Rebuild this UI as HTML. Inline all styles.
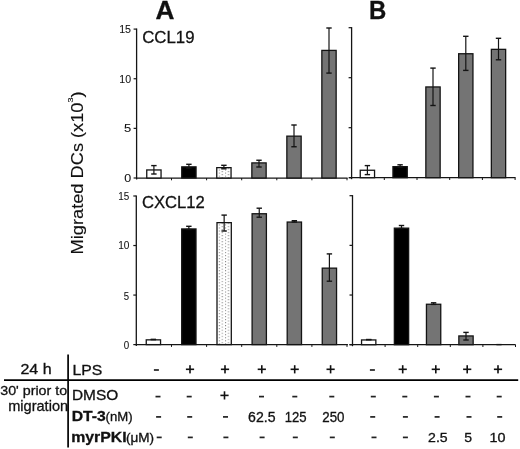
<!DOCTYPE html>
<html><head><meta charset="utf-8"><style>
html,body{margin:0;padding:0;background:#fff;}
body{width:520px;height:449px;overflow:hidden;}
svg{display:block;font-family:"Liberation Sans",sans-serif;will-change:transform;}
text{fill:#111;stroke:#111;stroke-width:0.3px;}
.tk{stroke-width:0.08px;}
</style></head><body>
<svg width="520" height="449" viewBox="0 0 520 449">
<defs><pattern id="dots" x="218.8" y="251.9" width="6.14" height="3.05" patternUnits="userSpaceOnUse">
<rect width="6.14" height="3.05" fill="#fff"/><rect x="0" y="0" width="1" height="1" fill="#777"/><rect x="3.07" y="1.52" width="1" height="1" fill="#777"/></pattern></defs>
<line x1="136.60" y1="28.50" x2="136.60" y2="179.50" stroke="#151515" stroke-width="1.3"/>
<line x1="133.60" y1="178.00" x2="136.60" y2="178.00" stroke="#151515" stroke-width="1.2"/>
<line x1="133.60" y1="128.37" x2="136.60" y2="128.37" stroke="#151515" stroke-width="1.2"/>
<line x1="133.60" y1="78.73" x2="136.60" y2="78.73" stroke="#151515" stroke-width="1.2"/>
<line x1="133.60" y1="29.10" x2="136.60" y2="29.10" stroke="#151515" stroke-width="1.2"/>
<line x1="136.60" y1="178.00" x2="347.60" y2="178.00" stroke="#151515" stroke-width="1.25"/>
<line x1="171.50" y1="178.00" x2="171.50" y2="180.30" stroke="#151515" stroke-width="1"/>
<line x1="206.60" y1="178.00" x2="206.60" y2="180.30" stroke="#151515" stroke-width="1"/>
<line x1="241.70" y1="178.00" x2="241.70" y2="180.30" stroke="#151515" stroke-width="1"/>
<line x1="276.80" y1="178.00" x2="276.80" y2="180.30" stroke="#151515" stroke-width="1"/>
<line x1="311.90" y1="178.00" x2="311.90" y2="180.30" stroke="#151515" stroke-width="1"/>
<line x1="347.00" y1="178.00" x2="347.00" y2="180.30" stroke="#151515" stroke-width="1"/>
<line x1="136.30" y1="195.40" x2="136.30" y2="346.10" stroke="#151515" stroke-width="1.3"/>
<line x1="133.30" y1="344.60" x2="136.30" y2="344.60" stroke="#151515" stroke-width="1.2"/>
<line x1="133.30" y1="295.07" x2="136.30" y2="295.07" stroke="#151515" stroke-width="1.2"/>
<line x1="133.30" y1="245.53" x2="136.30" y2="245.53" stroke="#151515" stroke-width="1.2"/>
<line x1="133.30" y1="196.00" x2="136.30" y2="196.00" stroke="#151515" stroke-width="1.2"/>
<line x1="136.30" y1="344.60" x2="347.90" y2="344.60" stroke="#151515" stroke-width="1.25"/>
<line x1="171.50" y1="344.60" x2="171.50" y2="346.90" stroke="#151515" stroke-width="1"/>
<line x1="206.60" y1="344.60" x2="206.60" y2="346.90" stroke="#151515" stroke-width="1"/>
<line x1="241.70" y1="344.60" x2="241.70" y2="346.90" stroke="#151515" stroke-width="1"/>
<line x1="276.80" y1="344.60" x2="276.80" y2="346.90" stroke="#151515" stroke-width="1"/>
<line x1="311.90" y1="344.60" x2="311.90" y2="346.90" stroke="#151515" stroke-width="1"/>
<line x1="347.00" y1="344.60" x2="347.00" y2="346.90" stroke="#151515" stroke-width="1"/>
<line x1="351.60" y1="27.10" x2="351.60" y2="179.20" stroke="#151515" stroke-width="1.3"/>
<line x1="348.60" y1="177.70" x2="351.60" y2="177.70" stroke="#151515" stroke-width="1.2"/>
<line x1="348.60" y1="127.70" x2="351.60" y2="127.70" stroke="#151515" stroke-width="1.2"/>
<line x1="348.60" y1="77.70" x2="351.60" y2="77.70" stroke="#151515" stroke-width="1.2"/>
<line x1="348.60" y1="27.70" x2="351.60" y2="27.70" stroke="#151515" stroke-width="1.2"/>
<line x1="349.20" y1="177.70" x2="515.60" y2="177.70" stroke="#151515" stroke-width="1.25"/>
<line x1="384.30" y1="177.70" x2="384.30" y2="180.00" stroke="#151515" stroke-width="1"/>
<line x1="417.00" y1="177.70" x2="417.00" y2="180.00" stroke="#151515" stroke-width="1"/>
<line x1="449.70" y1="177.70" x2="449.70" y2="180.00" stroke="#151515" stroke-width="1"/>
<line x1="482.40" y1="177.70" x2="482.40" y2="180.00" stroke="#151515" stroke-width="1"/>
<line x1="515.10" y1="177.70" x2="515.10" y2="180.00" stroke="#151515" stroke-width="1"/>
<line x1="352.50" y1="195.10" x2="352.50" y2="346.20" stroke="#151515" stroke-width="1.3"/>
<line x1="349.50" y1="344.70" x2="352.50" y2="344.70" stroke="#151515" stroke-width="1.2"/>
<line x1="349.50" y1="295.03" x2="352.50" y2="295.03" stroke="#151515" stroke-width="1.2"/>
<line x1="349.50" y1="245.37" x2="352.50" y2="245.37" stroke="#151515" stroke-width="1.2"/>
<line x1="349.50" y1="195.70" x2="352.50" y2="195.70" stroke="#151515" stroke-width="1.2"/>
<line x1="349.40" y1="344.70" x2="515.60" y2="344.70" stroke="#151515" stroke-width="1.25"/>
<line x1="385.10" y1="344.70" x2="385.10" y2="347.00" stroke="#151515" stroke-width="1"/>
<line x1="417.70" y1="344.70" x2="417.70" y2="347.00" stroke="#151515" stroke-width="1"/>
<line x1="450.30" y1="344.70" x2="450.30" y2="347.00" stroke="#151515" stroke-width="1"/>
<line x1="482.90" y1="344.70" x2="482.90" y2="347.00" stroke="#151515" stroke-width="1"/>
<line x1="515.50" y1="344.70" x2="515.50" y2="347.00" stroke="#151515" stroke-width="1"/>
<rect x="146.75" y="169.95" width="14.30" height="8.05" fill="#fff" stroke="#141414" stroke-width="1.3"/>
<line x1="153.90" y1="165.60" x2="153.90" y2="174.00" stroke="#141414" stroke-width="1.2"/>
<line x1="151.20" y1="165.60" x2="156.60" y2="165.60" stroke="#141414" stroke-width="1.4"/>
<line x1="151.20" y1="174.00" x2="156.60" y2="174.00" stroke="#141414" stroke-width="1.4"/>
<rect x="181.75" y="166.85" width="14.30" height="11.15" fill="#000" stroke="#141414" stroke-width="1.3"/>
<line x1="188.90" y1="164.30" x2="188.90" y2="168.00" stroke="#141414" stroke-width="1.2"/>
<line x1="186.20" y1="164.30" x2="191.60" y2="164.30" stroke="#141414" stroke-width="1.4"/>
<line x1="186.20" y1="168.00" x2="191.60" y2="168.00" stroke="#141414" stroke-width="1.4"/>
<rect x="216.75" y="167.65" width="14.30" height="10.35" fill="url(#dots)" stroke="#141414" stroke-width="1.3"/>
<line x1="223.90" y1="165.30" x2="223.90" y2="168.80" stroke="#141414" stroke-width="1.2"/>
<line x1="221.20" y1="165.30" x2="226.60" y2="165.30" stroke="#141414" stroke-width="1.4"/>
<line x1="221.20" y1="168.80" x2="226.60" y2="168.80" stroke="#141414" stroke-width="1.4"/>
<rect x="251.85" y="162.90" width="14.30" height="15.10" fill="#747474" stroke="#141414" stroke-width="1.3"/>
<line x1="259.00" y1="160.25" x2="259.00" y2="167.00" stroke="#141414" stroke-width="1.2"/>
<line x1="256.30" y1="160.25" x2="261.70" y2="160.25" stroke="#141414" stroke-width="1.4"/>
<line x1="256.30" y1="167.00" x2="261.70" y2="167.00" stroke="#141414" stroke-width="1.4"/>
<rect x="286.85" y="136.15" width="14.30" height="41.85" fill="#747474" stroke="#141414" stroke-width="1.3"/>
<line x1="294.00" y1="125.00" x2="294.00" y2="146.75" stroke="#141414" stroke-width="1.2"/>
<line x1="291.30" y1="125.00" x2="296.70" y2="125.00" stroke="#141414" stroke-width="1.4"/>
<line x1="291.30" y1="146.75" x2="296.70" y2="146.75" stroke="#141414" stroke-width="1.4"/>
<rect x="321.85" y="50.40" width="14.30" height="127.60" fill="#747474" stroke="#141414" stroke-width="1.3"/>
<line x1="329.00" y1="28.00" x2="329.00" y2="73.10" stroke="#141414" stroke-width="1.2"/>
<line x1="326.30" y1="28.00" x2="331.70" y2="28.00" stroke="#141414" stroke-width="1.4"/>
<line x1="326.30" y1="73.10" x2="331.70" y2="73.10" stroke="#141414" stroke-width="1.4"/>
<rect x="360.25" y="170.25" width="14.30" height="7.45" fill="#fff" stroke="#141414" stroke-width="1.3"/>
<line x1="367.40" y1="165.60" x2="367.40" y2="174.60" stroke="#141414" stroke-width="1.2"/>
<line x1="364.70" y1="165.60" x2="370.10" y2="165.60" stroke="#141414" stroke-width="1.4"/>
<line x1="364.70" y1="174.60" x2="370.10" y2="174.60" stroke="#141414" stroke-width="1.4"/>
<rect x="392.95" y="166.65" width="14.30" height="11.05" fill="#000" stroke="#141414" stroke-width="1.3"/>
<line x1="400.10" y1="164.80" x2="400.10" y2="167.20" stroke="#141414" stroke-width="1.2"/>
<line x1="397.40" y1="164.80" x2="402.80" y2="164.80" stroke="#141414" stroke-width="1.4"/>
<line x1="397.40" y1="167.20" x2="402.80" y2="167.20" stroke="#141414" stroke-width="1.4"/>
<rect x="425.85" y="86.95" width="14.30" height="90.75" fill="#747474" stroke="#141414" stroke-width="1.3"/>
<line x1="433.00" y1="68.10" x2="433.00" y2="105.50" stroke="#141414" stroke-width="1.2"/>
<line x1="430.30" y1="68.10" x2="435.70" y2="68.10" stroke="#141414" stroke-width="1.4"/>
<line x1="430.30" y1="105.50" x2="435.70" y2="105.50" stroke="#141414" stroke-width="1.4"/>
<rect x="458.65" y="53.75" width="14.30" height="123.95" fill="#747474" stroke="#141414" stroke-width="1.3"/>
<line x1="465.80" y1="36.30" x2="465.80" y2="70.40" stroke="#141414" stroke-width="1.2"/>
<line x1="463.10" y1="36.30" x2="468.50" y2="36.30" stroke="#141414" stroke-width="1.4"/>
<line x1="463.10" y1="70.40" x2="468.50" y2="70.40" stroke="#141414" stroke-width="1.4"/>
<rect x="491.35" y="49.35" width="14.30" height="128.35" fill="#747474" stroke="#141414" stroke-width="1.3"/>
<line x1="498.50" y1="38.30" x2="498.50" y2="59.80" stroke="#141414" stroke-width="1.2"/>
<line x1="495.80" y1="38.30" x2="501.20" y2="38.30" stroke="#141414" stroke-width="1.4"/>
<line x1="495.80" y1="59.80" x2="501.20" y2="59.80" stroke="#141414" stroke-width="1.4"/>
<rect x="146.25" y="339.85" width="14.30" height="4.75" fill="#fff" stroke="#141414" stroke-width="1.3"/>
<line x1="153.40" y1="339.50" x2="153.40" y2="339.50" stroke="#141414" stroke-width="1.2"/>
<line x1="150.70" y1="339.50" x2="156.10" y2="339.50" stroke="#141414" stroke-width="1.4"/>
<line x1="150.70" y1="339.50" x2="156.10" y2="339.50" stroke="#141414" stroke-width="1.4"/>
<rect x="181.70" y="228.95" width="14.30" height="115.65" fill="#000" stroke="#141414" stroke-width="1.3"/>
<line x1="188.85" y1="226.30" x2="188.85" y2="229.50" stroke="#141414" stroke-width="1.2"/>
<line x1="186.15" y1="226.30" x2="191.55" y2="226.30" stroke="#141414" stroke-width="1.4"/>
<line x1="186.15" y1="229.50" x2="191.55" y2="229.50" stroke="#141414" stroke-width="1.4"/>
<rect x="217.00" y="222.65" width="14.30" height="121.95" fill="url(#dots)" stroke="#141414" stroke-width="1.3"/>
<line x1="224.15" y1="215.10" x2="224.15" y2="231.00" stroke="#141414" stroke-width="1.2"/>
<line x1="221.45" y1="215.10" x2="226.85" y2="215.10" stroke="#141414" stroke-width="1.4"/>
<line x1="221.45" y1="231.00" x2="226.85" y2="231.00" stroke="#141414" stroke-width="1.4"/>
<rect x="252.10" y="213.75" width="14.30" height="130.85" fill="#747474" stroke="#141414" stroke-width="1.3"/>
<line x1="259.25" y1="208.20" x2="259.25" y2="217.20" stroke="#141414" stroke-width="1.2"/>
<line x1="256.55" y1="208.20" x2="261.95" y2="208.20" stroke="#141414" stroke-width="1.4"/>
<line x1="256.55" y1="217.20" x2="261.95" y2="217.20" stroke="#141414" stroke-width="1.4"/>
<rect x="287.20" y="222.05" width="14.30" height="122.55" fill="#747474" stroke="#141414" stroke-width="1.3"/>
<line x1="294.35" y1="220.70" x2="294.35" y2="222.00" stroke="#141414" stroke-width="1.2"/>
<line x1="291.65" y1="220.70" x2="297.05" y2="220.70" stroke="#141414" stroke-width="1.4"/>
<line x1="291.65" y1="222.00" x2="297.05" y2="222.00" stroke="#141414" stroke-width="1.4"/>
<rect x="322.25" y="268.15" width="14.30" height="76.45" fill="#747474" stroke="#141414" stroke-width="1.3"/>
<line x1="329.40" y1="253.90" x2="329.40" y2="281.20" stroke="#141414" stroke-width="1.2"/>
<line x1="326.70" y1="253.90" x2="332.10" y2="253.90" stroke="#141414" stroke-width="1.4"/>
<line x1="326.70" y1="281.20" x2="332.10" y2="281.20" stroke="#141414" stroke-width="1.4"/>
<rect x="361.55" y="339.95" width="14.30" height="4.75" fill="#fff" stroke="#141414" stroke-width="1.3"/>
<line x1="368.70" y1="339.60" x2="368.70" y2="339.60" stroke="#141414" stroke-width="1.2"/>
<line x1="366.00" y1="339.60" x2="371.40" y2="339.60" stroke="#141414" stroke-width="1.4"/>
<line x1="366.00" y1="339.60" x2="371.40" y2="339.60" stroke="#141414" stroke-width="1.4"/>
<rect x="394.35" y="228.15" width="14.30" height="116.55" fill="#000" stroke="#141414" stroke-width="1.3"/>
<line x1="401.50" y1="225.50" x2="401.50" y2="228.50" stroke="#141414" stroke-width="1.2"/>
<line x1="398.80" y1="225.50" x2="404.20" y2="225.50" stroke="#141414" stroke-width="1.4"/>
<line x1="398.80" y1="228.50" x2="404.20" y2="228.50" stroke="#141414" stroke-width="1.4"/>
<rect x="426.45" y="304.25" width="14.30" height="40.45" fill="#747474" stroke="#141414" stroke-width="1.3"/>
<line x1="433.60" y1="302.80" x2="433.60" y2="304.40" stroke="#141414" stroke-width="1.2"/>
<line x1="430.90" y1="302.80" x2="436.30" y2="302.80" stroke="#141414" stroke-width="1.4"/>
<line x1="430.90" y1="304.40" x2="436.30" y2="304.40" stroke="#141414" stroke-width="1.4"/>
<rect x="458.85" y="335.95" width="14.30" height="8.75" fill="#747474" stroke="#141414" stroke-width="1.3"/>
<line x1="466.00" y1="332.40" x2="466.00" y2="340.00" stroke="#141414" stroke-width="1.2"/>
<line x1="463.30" y1="332.40" x2="468.70" y2="332.40" stroke="#141414" stroke-width="1.4"/>
<line x1="463.30" y1="340.00" x2="468.70" y2="340.00" stroke="#141414" stroke-width="1.4"/>
<line x1="496.40" y1="344.60" x2="501.60" y2="344.60" stroke="#141414" stroke-width="1.4"/>
<text transform="translate(155.41,19.06) scale(1.024,1)" font-size="25.59" font-weight="bold">A</text>
<text transform="translate(369.12,18.80) scale(0.949,1)" font-size="25.22" font-weight="bold">B</text>
<text transform="translate(142.26,43.04) scale(1.036,1)" font-size="16.20" font-weight="normal">CCL19</text>
<text x="141.97" y="207.83" font-size="16.62" font-weight="normal">CXCL12</text>
<text transform="translate(20.40,373.60) scale(1.047,1)" font-size="15.34" font-weight="normal">24 h</text>
<text transform="translate(72.44,374.66) scale(1.096,1)" font-size="14.37" font-weight="normal">LPS</text>
<text transform="translate(71.97,400.26) scale(1.074,1)" font-size="14.37" font-weight="normal">DMSO</text>
<text transform="translate(71.70,421.26) scale(1.128,1)" font-size="13.94" font-weight="bold">DT-3</text>
<text transform="translate(105.51,421.36) scale(1.048,1)" font-size="12.55" font-weight="normal">(nM)</text>
<text transform="translate(71.19,441.61) scale(1.115,1)" font-size="14.22" font-weight="bold">myrPKI</text>
<text transform="translate(125.98,441.63) scale(1.111,1)" font-size="12.23" font-weight="normal">(&#956;M)</text>
<text transform="translate(0.23,395.14) scale(1.048,1)" font-size="13.62" font-weight="normal">30' prior to</text>
<text x="8.19" y="411.44" font-size="14.57" font-weight="normal">migration</text>
<text x="248.10" y="421.76" font-size="14.08" font-weight="normal">62.5</text>
<text transform="translate(284.75,421.76) scale(0.934,1)" font-size="14.08" font-weight="normal">125</text>
<text transform="translate(322.23,421.76) scale(0.948,1)" font-size="14.08" font-weight="normal">250</text>
<text transform="translate(428.10,441.98) scale(1.149,1)" font-size="12.25" font-weight="normal">2.5</text>
<text transform="translate(464.24,441.98) scale(1.130,1)" font-size="12.43" font-weight="normal">5</text>
<text transform="translate(489.55,441.98) scale(1.171,1)" font-size="12.25" font-weight="normal">10</text>
<text class="tk" transform="translate(119.14,33.48) scale(0.914,1)" font-size="11.71" font-weight="normal">15</text>
<text class="tk" transform="translate(119.25,83.18) scale(0.918,1)" font-size="11.55" font-weight="normal">10</text>
<text class="tk" transform="translate(123.98,132.29) scale(1.195,1)" font-size="10.86" font-weight="normal">5</text>
<text class="tk" transform="translate(124.20,182.00) scale(1.199,1)" font-size="10.42" font-weight="normal">0</text>
<text class="tk" transform="translate(118.21,200.29) scale(0.900,1)" font-size="11.00" font-weight="normal">15</text>
<text class="tk" transform="translate(118.19,249.39) scale(0.919,1)" font-size="10.99" font-weight="normal">10</text>
<text class="tk" transform="translate(123.72,299.70) scale(0.957,1)" font-size="10.00" font-weight="normal">5</text>
<text class="tk" transform="translate(123.71,349.00) scale(0.952,1)" font-size="10.28" font-weight="normal">0</text>
<text style="stroke-width:0.12px" transform="translate(83.1,254.4) rotate(-90) scale(1.14,1)" font-size="16">Migrated DCs (x10<tspan font-size="8" dy="-9.7">3</tspan><tspan dy="9.7">)</tspan></text>
<line x1="68.1" y1="354.5" x2="68.1" y2="447.5" stroke="#000" stroke-width="1.7"/>
<line x1="4" y1="380.2" x2="518.2" y2="380.2" stroke="#000" stroke-width="1.8"/>
<rect x="153.90" y="369.15" width="5" height="1.7" fill="#222"/>
<rect x="185.90" y="368.50" width="8.2" height="1.6" fill="#111"/>
<rect x="189.20" y="365.20" width="1.6" height="8.2" fill="#111"/>
<rect x="220.90" y="368.50" width="8.2" height="1.6" fill="#111"/>
<rect x="224.20" y="365.20" width="1.6" height="8.2" fill="#111"/>
<rect x="257.70" y="368.50" width="8.2" height="1.6" fill="#111"/>
<rect x="261.00" y="365.20" width="1.6" height="8.2" fill="#111"/>
<rect x="290.60" y="368.50" width="8.2" height="1.6" fill="#111"/>
<rect x="293.90" y="365.20" width="1.6" height="8.2" fill="#111"/>
<rect x="326.50" y="368.50" width="8.2" height="1.6" fill="#111"/>
<rect x="329.80" y="365.20" width="1.6" height="8.2" fill="#111"/>
<rect x="369.90" y="369.15" width="5" height="1.7" fill="#222"/>
<rect x="398.60" y="368.50" width="8.2" height="1.6" fill="#111"/>
<rect x="401.90" y="365.20" width="1.6" height="8.2" fill="#111"/>
<rect x="431.70" y="368.50" width="8.2" height="1.6" fill="#111"/>
<rect x="435.00" y="365.20" width="1.6" height="8.2" fill="#111"/>
<rect x="463.10" y="368.50" width="8.2" height="1.6" fill="#111"/>
<rect x="466.40" y="365.20" width="1.6" height="8.2" fill="#111"/>
<rect x="493.90" y="368.50" width="8.2" height="1.6" fill="#111"/>
<rect x="497.20" y="365.20" width="1.6" height="8.2" fill="#111"/>
<rect x="155.50" y="395.75" width="5" height="1.7" fill="#222"/>
<rect x="186.70" y="395.75" width="5" height="1.7" fill="#222"/>
<rect x="259.00" y="395.75" width="5" height="1.7" fill="#222"/>
<rect x="292.30" y="395.75" width="5" height="1.7" fill="#222"/>
<rect x="329.30" y="395.75" width="5" height="1.7" fill="#222"/>
<rect x="370.80" y="395.75" width="5" height="1.7" fill="#222"/>
<rect x="402.30" y="395.75" width="5" height="1.7" fill="#222"/>
<rect x="433.90" y="395.75" width="5" height="1.7" fill="#222"/>
<rect x="465.50" y="395.75" width="5" height="1.7" fill="#222"/>
<rect x="496.70" y="395.75" width="5" height="1.7" fill="#222"/>
<rect x="220.40" y="394.60" width="8.2" height="1.6" fill="#111"/>
<rect x="223.70" y="391.30" width="1.6" height="8.2" fill="#111"/>
<rect x="156.10" y="416.05" width="5" height="1.7" fill="#222"/>
<rect x="187.20" y="416.05" width="5" height="1.7" fill="#222"/>
<rect x="223.00" y="416.05" width="5" height="1.7" fill="#222"/>
<rect x="370.20" y="416.05" width="5" height="1.7" fill="#222"/>
<rect x="402.90" y="416.05" width="5" height="1.7" fill="#222"/>
<rect x="434.60" y="416.05" width="5" height="1.7" fill="#222"/>
<rect x="466.50" y="416.05" width="5" height="1.7" fill="#222"/>
<rect x="497.20" y="416.05" width="5" height="1.7" fill="#222"/>
<rect x="156.70" y="436.55" width="5" height="1.7" fill="#222"/>
<rect x="187.80" y="436.55" width="5" height="1.7" fill="#222"/>
<rect x="223.40" y="436.55" width="5" height="1.7" fill="#222"/>
<rect x="259.60" y="436.55" width="5" height="1.7" fill="#222"/>
<rect x="292.80" y="436.55" width="5" height="1.7" fill="#222"/>
<rect x="329.80" y="436.55" width="5" height="1.7" fill="#222"/>
<rect x="371.50" y="436.55" width="5" height="1.7" fill="#222"/>
<rect x="402.90" y="436.55" width="5" height="1.7" fill="#222"/>
</svg>
</body></html>
